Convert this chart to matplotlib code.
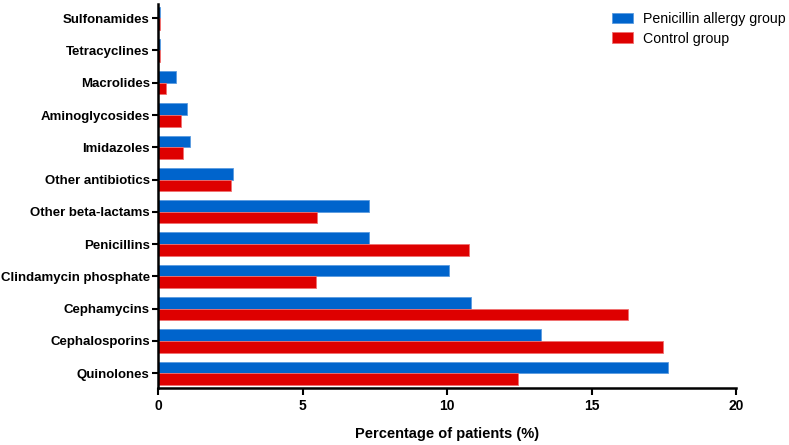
import matplotlib
matplotlib.use("Agg")
import matplotlib.pyplot as plt
import numpy as np

plt.rcParams['font.family'] = ['Liberation Sans', 'DejaVu Sans']

categories = ["Quinolones", "Cephalosporins", "Cephamycins", "Clindamycin phosphate",
              "Penicillins", "Other beta-lactams", "Other antibiotics", "Imidazoles",
              "Aminoglycosides", "Macrolides", "Tetracyclines", "Sulfonamides"]
allergy = [17.64, 13.24, 10.84, 10.06, 7.31, 7.29, 2.6, 1.1, 1.02, 0.64, 0.07, 0.07]
control = [12.44, 17.49, 16.25, 5.46, 10.75, 5.49, 2.53, 0.85, 0.81, 0.28, 0.07, 0.07]
series_names = ["Penicillin allergy group", "Control group"]
xticks = [0, 5, 10, 15, 20]

blue = "#0064CC"
red = "#DE0000"

W, H = 789, 445
fig = plt.figure(figsize=(W / 100, H / 100), dpi=100)
ax = fig.add_axes([158 / W, 1 - 388 / H, (736 - 158) / W, (388 - 4) / H])

y = np.arange(len(categories))
h = 0.36
ax.barh(y + h / 2, allergy, height=h, color=blue, edgecolor="#5a9be0", linewidth=0.6,
        label=series_names[0])
ax.barh(y - h / 2, control, height=h, color=red, edgecolor="#f07070", linewidth=0.6,
        label=series_names[1])

ax.set_xlim(0, 20)
ax.set_ylim(-0.46, 11.44)
ax.set_xticks(xticks)
ax.set_xticklabels([str(t) for t in xticks], fontsize=10, fontweight="bold")
ax.set_yticks(y)
ax.set_yticklabels(categories, fontsize=9.5, fontweight="bold")
ax.set_xlabel("Percentage of patients (%)", fontsize=10.5, fontweight="bold")
ax.xaxis.label.set_va("center")
ax.xaxis.set_label_coords(0.5, -(434 - 388) / 384)

for s in ["top", "right"]:
    ax.spines[s].set_visible(False)
for s in ["left", "bottom"]:
    ax.spines[s].set_linewidth(1.8)
    ax.spines[s].set_color("black")
ax.tick_params(axis="x", length=5, width=1.5, pad=3)
ax.tick_params(axis="y", length=4, width=1.5, pad=2)

leg = ax.legend(loc="upper right", bbox_to_anchor=(786 / W, 1 - 12 / H),
                bbox_transform=fig.transFigure, frameon=False, fontsize=10.2,
                handlelength=1.55, handleheight=0.8, handletextpad=0.7, labelspacing=0.4,
                borderaxespad=0, borderpad=0)

fig.savefig("out.png", dpi=100)
